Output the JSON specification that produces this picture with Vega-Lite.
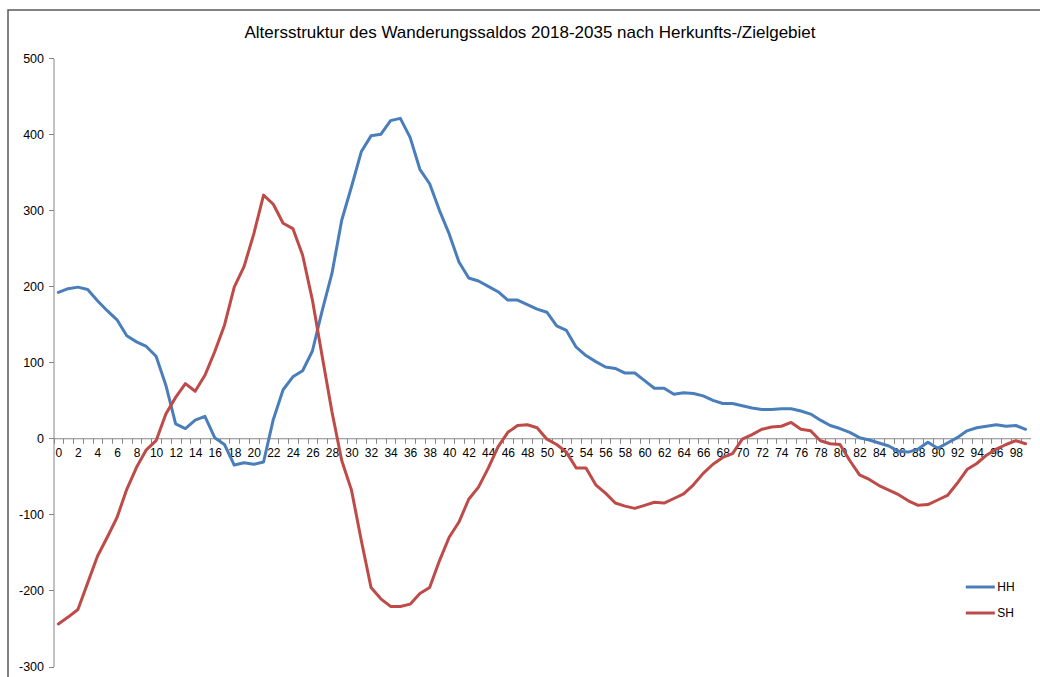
{
  "$schema": "https://vega.github.io/schema/vega-lite/v6.json",
  "width": 1032,
  "height": 667,
  "autosize": {"type": "none"},
  "padding": {"left": 8, "top": 10, "right": 0, "bottom": 0},
  "background": "white",
  "config": {
    "font": "Liberation Sans",
    "view": {"stroke": "#595959", "strokeWidth": 1.5, "strokeDash": [1032, 1699, 667]}
  },
  "title": {
    "text": "Altersstruktur des Wanderungssaldos 2018-2035 nach Herkunfts-/Zielgebiet",
    "font": "Liberation Sans",
    "fontSize": 17,
    "fontWeight": "normal",
    "color": "#000000",
    "anchor": "middle",
    "frame": "group",
    "offset": -32,
    "dx": 6
  },
  "data": {
    "values": [
      {"a": 0, "HH": 192, "SH": -244},
      {"a": 1, "HH": 197, "SH": -235},
      {"a": 2, "HH": 199, "SH": -225},
      {"a": 3, "HH": 196, "SH": -190},
      {"a": 4, "HH": 181, "SH": -155},
      {"a": 5, "HH": 168, "SH": -130},
      {"a": 6, "HH": 156, "SH": -104},
      {"a": 7, "HH": 135, "SH": -67},
      {"a": 8, "HH": 127, "SH": -38},
      {"a": 9, "HH": 121, "SH": -15},
      {"a": 10, "HH": 108, "SH": -3},
      {"a": 11, "HH": 70, "SH": 32},
      {"a": 12, "HH": 19, "SH": 54},
      {"a": 13, "HH": 13, "SH": 72},
      {"a": 14, "HH": 24, "SH": 62},
      {"a": 15, "HH": 29, "SH": 83},
      {"a": 16, "HH": 1, "SH": 114},
      {"a": 17, "HH": -8, "SH": 149},
      {"a": 18, "HH": -35, "SH": 199},
      {"a": 19, "HH": -32, "SH": 226},
      {"a": 20, "HH": -34, "SH": 269},
      {"a": 21, "HH": -31, "SH": 320},
      {"a": 22, "HH": 25, "SH": 308},
      {"a": 23, "HH": 64, "SH": 283},
      {"a": 24, "HH": 81, "SH": 276},
      {"a": 25, "HH": 89, "SH": 241},
      {"a": 26, "HH": 115, "SH": 182},
      {"a": 27, "HH": 168, "SH": 108},
      {"a": 28, "HH": 217, "SH": 35},
      {"a": 29, "HH": 287, "SH": -29},
      {"a": 30, "HH": 331, "SH": -68},
      {"a": 31, "HH": 377, "SH": -134},
      {"a": 32, "HH": 398, "SH": -196},
      {"a": 33, "HH": 400, "SH": -211},
      {"a": 34, "HH": 418, "SH": -221},
      {"a": 35, "HH": 421, "SH": -221},
      {"a": 36, "HH": 396, "SH": -218},
      {"a": 37, "HH": 354, "SH": -204},
      {"a": 38, "HH": 335, "SH": -196},
      {"a": 39, "HH": 300, "SH": -161},
      {"a": 40, "HH": 269, "SH": -130},
      {"a": 41, "HH": 232, "SH": -110},
      {"a": 42, "HH": 211, "SH": -80},
      {"a": 43, "HH": 207, "SH": -64},
      {"a": 44, "HH": 200, "SH": -39},
      {"a": 45, "HH": 193, "SH": -11},
      {"a": 46, "HH": 182, "SH": 8},
      {"a": 47, "HH": 182, "SH": 17},
      {"a": 48, "HH": 176, "SH": 18},
      {"a": 49, "HH": 170, "SH": 14},
      {"a": 50, "HH": 166, "SH": -1},
      {"a": 51, "HH": 148, "SH": -8},
      {"a": 52, "HH": 142, "SH": -18},
      {"a": 53, "HH": 120, "SH": -39},
      {"a": 54, "HH": 109, "SH": -39},
      {"a": 55, "HH": 101, "SH": -61},
      {"a": 56, "HH": 94, "SH": -72},
      {"a": 57, "HH": 92, "SH": -85},
      {"a": 58, "HH": 86, "SH": -89},
      {"a": 59, "HH": 86, "SH": -92},
      {"a": 60, "HH": 76, "SH": -88},
      {"a": 61, "HH": 66, "SH": -84},
      {"a": 62, "HH": 66, "SH": -85},
      {"a": 63, "HH": 58, "SH": -79},
      {"a": 64, "HH": 60, "SH": -73},
      {"a": 65, "HH": 59, "SH": -61},
      {"a": 66, "HH": 56, "SH": -46},
      {"a": 67, "HH": 50, "SH": -34},
      {"a": 68, "HH": 46, "SH": -25},
      {"a": 69, "HH": 46, "SH": -20},
      {"a": 70, "HH": 43, "SH": -1},
      {"a": 71, "HH": 40, "SH": 5},
      {"a": 72, "HH": 38, "SH": 12},
      {"a": 73, "HH": 38, "SH": 15},
      {"a": 74, "HH": 39, "SH": 16},
      {"a": 75, "HH": 39, "SH": 21},
      {"a": 76, "HH": 36, "SH": 12},
      {"a": 77, "HH": 32, "SH": 10},
      {"a": 78, "HH": 24, "SH": -3},
      {"a": 79, "HH": 17, "SH": -7},
      {"a": 80, "HH": 13, "SH": -8},
      {"a": 81, "HH": 8, "SH": -29},
      {"a": 82, "HH": 1, "SH": -48},
      {"a": 83, "HH": -2, "SH": -54},
      {"a": 84, "HH": -6, "SH": -62},
      {"a": 85, "HH": -10, "SH": -68},
      {"a": 86, "HH": -17, "SH": -74},
      {"a": 87, "HH": -18, "SH": -82},
      {"a": 88, "HH": -14, "SH": -88},
      {"a": 89, "HH": -5, "SH": -87},
      {"a": 90, "HH": -13, "SH": -81},
      {"a": 91, "HH": -6, "SH": -75},
      {"a": 92, "HH": 1, "SH": -59},
      {"a": 93, "HH": 10, "SH": -41},
      {"a": 94, "HH": 14, "SH": -33},
      {"a": 95, "HH": 16, "SH": -22},
      {"a": 96, "HH": 18, "SH": -14},
      {"a": 97, "HH": 16, "SH": -8},
      {"a": 98, "HH": 17, "SH": -3},
      {"a": 99, "HH": 12, "SH": -7}
    ]
  },
  "transform": [{"fold": ["HH", "SH"], "as": ["Gebiet", "Saldo"]}],
  "mark": {"type": "line", "strokeWidth": 3, "strokeJoin": "round", "strokeCap": "round"},
  "encoding": {
    "x": {
      "field": "a",
      "type": "quantitative",
      "scale": {"domain": [-0.5, 99.5], "range": [45.5, 1022.5], "nice": false, "zero": false},
      "axis": {
        "orient": "bottom",
        "offset": -238.75,
        "values": [0,1,2,3,4,5,6,7,8,9,10,11,12,13,14,15,16,17,18,19,20,21,22,23,24,25,26,27,28,29,30,31,32,33,34,35,36,37,38,39,40,41,42,43,44,45,46,47,48,49,50,51,52,53,54,55,56,57,58,59,60,61,62,63,64,65,66,67,68,69,70,71,72,73,74,75,76,77,78,79,80,81,82,83,84,85,86,87,88,89,90,91,92,93,94,95,96,97,98,99],
        "labelExpr": "datum.value % 2 === 0 ? datum.label : ''",
        "tickOffset": -4.885,
        "labelOffset": 4.885,
        "labelOverlap": false,
        "labelFlush": false,
        "labelBound": false,
        "labelAngle": 0,
        "labelFontSize": 12,
        "labelColor": "#000000",
        "labelPadding": 4.5,
        "domainColor": "#868686",
        "tickColor": "#868686",
        "tickSize": 5,
        "grid": false,
        "title": null
      }
    },
    "y": {
      "field": "Saldo",
      "type": "quantitative",
      "scale": {"domain": [-300, 500], "range": [656.5, 48.3], "nice": false, "zero": false},
      "axis": {
        "orient": "left",
        "offset": -45.5,
        "values": [-300, -200, -100, 0, 100, 200, 300, 400, 500],
        "labelExpr": "'' + datum.value",
        "labelFontSize": 12.5,
        "labelColor": "#000000",
        "labelPadding": 5,
        "domainColor": "#868686",
        "tickColor": "#868686",
        "tickSize": 5,
        "grid": false,
        "title": null
      }
    },
    "color": {
      "field": "Gebiet",
      "type": "nominal",
      "scale": {"domain": ["HH", "SH"], "range": ["#4A7EBB", "#BE4B48"]},
      "legend": {
        "orient": "none",
        "legendX": 956.3,
        "legendY": 561,
        "title": null,
        "padding": 0,
        "symbolType": "stroke",
        "symbolSize": 841,
        "symbolStrokeWidth": 3,
        "labelFontSize": 12,
        "labelColor": "#000000",
        "labelOffset": 1,
        "rowPadding": 4
      }
    }
  }
}
